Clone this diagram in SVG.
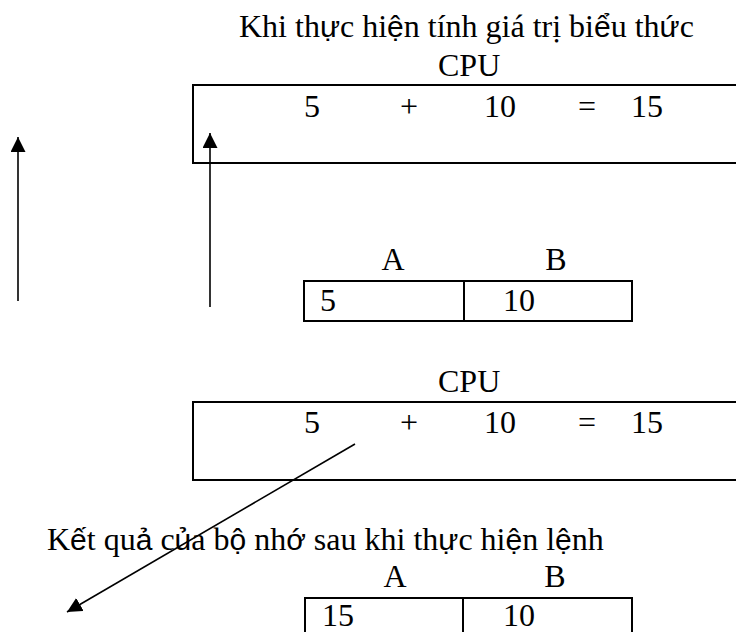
<svg xmlns="http://www.w3.org/2000/svg" width="736" height="632" viewBox="0 0 736 632">
  <style>
    text { font-family: "Liberation Serif", "Times New Roman", serif; font-size: 32px; fill: #000; }
    .v { font-family: "Liberation Sans", Arial, sans-serif; font-size: 30px; }
    .mid { text-anchor: middle; }
    .box { fill: none; stroke: #000; stroke-width: 2; }
    .conn { fill: none; stroke: #000; stroke-width: 1.6; }
  </style>
  <defs>
    <marker id="arrow" markerUnits="userSpaceOnUse" markerWidth="16" markerHeight="16" viewBox="0 0 16 16" refX="15" refY="7.5" orient="auto">
      <path d="M0,0 L15,7.5 L0,15 Z" fill="#000"/>
    </marker>
  </defs>

  <rect width="736" height="632" fill="#fff"/>

  <!-- heading -->
  <g id="title">
    <text x="239" y="37">Khi th<tspan class="v">ự</tspan>c hi<tspan class="v">ệ</tspan>n tính giá trị bi<tspan class="v">ể</tspan>u th<tspan class="v">ứ</tspan>c</text>
  </g>

  <!-- CPU while evaluating -->
  <g id="cpu1">
    <text x="438" y="76">CPU</text>
    <rect class="box" x="193" y="85" width="560" height="78"/>
    <text x="304" y="117">5</text>
    <text class="mid" x="409" y="117">+</text>
    <text x="484" y="117">10</text>
    <text class="mid" x="587" y="117">=</text>
    <text x="631" y="117">15</text>
  </g>

  <!-- memory before -->
  <g id="mem1">
    <text class="mid" x="393" y="270">A</text>
    <text class="mid" x="556" y="270">B</text>
    <rect class="box" x="304" y="281" width="328" height="40"/>
    <line class="box" x1="464" y1="281" x2="464" y2="321"/>
    <text x="320" y="311">5</text>
    <text x="503" y="311">10</text>
  </g>

  <!-- CPU result -->
  <g id="cpu2">
    <text x="438" y="392">CPU</text>
    <rect class="box" x="193" y="402" width="560" height="78"/>
    <text x="304" y="433">5</text>
    <text class="mid" x="409" y="433">+</text>
    <text x="484" y="433">10</text>
    <text class="mid" x="587" y="433">=</text>
    <text x="631" y="433">15</text>
  </g>

  <!-- caption for memory after -->
  <g id="caption">
    <text x="47" y="550">K<tspan class="v">ế</tspan>t qu<tspan class="v">ả</tspan> c<tspan class="v">ủ</tspan>a b<tspan class="v">ộ</tspan> nh<tspan class="v">ớ</tspan> sau khi th<tspan class="v">ự</tspan>c hi<tspan class="v">ệ</tspan>n l<tspan class="v">ệ</tspan>nh</text>
  </g>

  <!-- memory after -->
  <g id="mem2">
    <text class="mid" x="395" y="587">A</text>
    <text class="mid" x="555" y="587">B</text>
    <rect class="box" x="305" y="598" width="327" height="50"/>
    <line class="box" x1="463" y1="598" x2="463" y2="640"/>
    <text x="322" y="626">15</text>
    <text x="503" y="626">10</text>
  </g>

  <!-- arrows -->
  <g id="connectors">
    <line class="conn" x1="18" y1="301" x2="18" y2="137" marker-end="url(#arrow)"/>
    <line class="conn" x1="210" y1="307" x2="210" y2="133" marker-end="url(#arrow)"/>
    <line class="conn" x1="355" y1="444" x2="67" y2="612" marker-end="url(#arrow)"/>
  </g>
</svg>
